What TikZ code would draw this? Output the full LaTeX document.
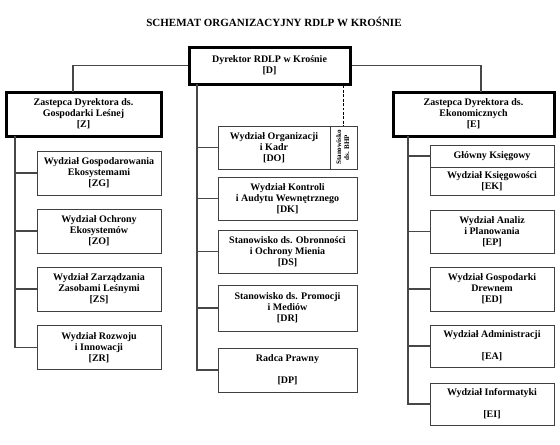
\documentclass[tikz,border=0pt]{standalone}
\usepackage{fontspec}
\setmainfont{Liberation Serif}
\usepackage{graphicx}
\usepackage{xcolor}
\usepackage{tikz}

\begin{document}
\begin{tikzpicture}[
    x=0.75pt, y=-0.75pt,
    % Wspolne style dla komorek i polaczen schematu.
    every node/.style={font=\bfseries\fontsize{7.5}{8.25}\selectfont, align=center, inner sep=1pt},
    link/.style={draw=black!72, line width=0.8pt},
    head/.style={rectangle, draw=black, line width=2.25pt, minimum height=33pt},
    unit/.style={rectangle, draw=black!75, line width=0.75pt, minimum width=93pt, minimum height=33pt},
    mid unit/.style={unit, minimum width=104.25pt, minimum height=32.25pt},
    bhp link/.style={draw=black, line width=1.4pt, dash pattern=on 2.2pt off 1.1pt}
]
\useasboundingbox (0,0) rectangle (560,444);

% Tytul schematu.
\node[font=\bfseries\fontsize{8.25}{10}\selectfont] (title) at (274, 21.5) {SCHEMAT ORGANIZACYJNY RDLP W KROŚNIE};

% Kierownictwo, pozycje wpisane recznie.
\node[head, minimum width=120.75pt, minimum height=27.75pt] (D) at (269.5, 65.5) {Dyrektor RDLP w Krośnie\\{[D]}};
\node[head, minimum width=116.25pt] (Z) at (83.5, 114) {Zastepca Dyrektora ds.\\Gospodarki Leśnej\\{[Z]}};
\node[head, minimum width=120.75pt] (E) at (473.5, 114) {Zastepca Dyrektora ds.\\Ekonomicznych\\{[E]}};

% Pion Zastepcy ds. Gospodarki Lesnej.
\node[unit] (ZG) at (99, 173)   {Wydział Gospodarowania\\Ekosystemami\\{[ZG]}};
\node[unit] (ZO) at (99, 231)   {Wydział Ochrony\\Ekosystemów\\{[ZO]}};
\node[unit] (ZS) at (99, 289)   {Wydział Zarządzania\\Zasobami Leśnymi\\{[ZS]}};
\node[unit] (ZR) at (99, 347.5) {Wydział Rozwoju\\i Innowacji\\{[ZR]}};

% Komorki podlegle Dyrektorowi.
\node[unit, minimum width=84pt, minimum height=32.25pt] (DO) at (274, 147.5) {Wydział Organizacji\\i Kadr\\{[DO]}};
\node[unit, minimum width=20.25pt, minimum height=32.25pt, inner sep=0pt] (BHP) at (343.5, 147.5)
    {\rotatebox{90}{\fontsize{5.3}{6}\selectfont\begin{tabular}{@{}c@{}}Stanowisko\\ds. BHP\end{tabular}}};
\node[mid unit] (DK) at (287.5, 198.5) {Wydział Kontroli\\i Audytu Wewnętrznego\\{[DK]}};
\node[mid unit] (DS) at (287.5, 251.5) {Stanowisko ds. Obronności\\i Ochrony Mienia\\{[DS]}};
\node[mid unit, minimum height=34.5pt] (DR) at (287.5, 308) {Stanowisko ds. Promocji\\i Mediów\\{[DR]}};
\node[mid unit, minimum height=33pt] (DP) at (287.5, 370) {Radca Prawny\\[8.25pt]{[DP]}};

% Pion Zastepcy ds. Ekonomicznych.
\node[unit, minimum height=16.5pt] (GK) at (492, 156) {Główny Księgowy};
\node[unit, minimum height=21pt]   (EK) at (492, 181) {Wydział Księgowości\\{[EK]}};
\node[unit, minimum height=32.25pt] (EP) at (492, 231.5) {Wydział Analiz\\i Planowania\\{[EP]}};
\node[unit] (ED) at (492, 289) {Wydział Gospodarki\\Drewnem\\{[ED]}};
\node[unit, minimum height=31.5pt] (EA) at (492, 346) {Wydział Administracji\\[8.25pt]{[EA]}};
\node[unit, minimum height=31.5pt] (EI) at (492, 404) {Wydział Informatyki\\[8.25pt]{[EI]}};

% Punkty zaczepienia linii pionowych.
\coordinate (Ztop) at (73, 92);
\coordinate (Etop) at (481, 92);
\coordinate (Ztrunk) at (15, 136);
\coordinate (Dtrunk) at (197, 84);
\coordinate (Etrunk) at (408, 136);

% Polaczenia kierownictwa.
\draw[link] (D.west) -| (Ztop);
\draw[link] (D.east) -| (Etop);
\draw[bhp link] (D.south -| BHP.north) -- (BHP.north);

% Polaczenia w pionach.
\draw[link] (Ztrunk) |- (ZG.west);
\draw[link] (Ztrunk) |- (ZO.west);
\draw[link] (Ztrunk) |- (ZS.west);
\draw[link] (Ztrunk) |- (ZR.west);

\draw[link] (Dtrunk) |- (DO.west);
\draw[link] (Dtrunk) |- (DK.west);
\draw[link] (Dtrunk) |- (DS.west);
\draw[link] (Dtrunk) |- (DR.west);
\draw[link] (Dtrunk) |- (DP.west);

\draw[link] (Etrunk) |- (GK.west);
\draw[link] (Etrunk) |- (EP.west);
\draw[link] (Etrunk) |- (ED.west);
\draw[link] (Etrunk) |- (EA.west);
\draw[link] (Etrunk) |- (EI.west);
\end{tikzpicture}
\end{document}
